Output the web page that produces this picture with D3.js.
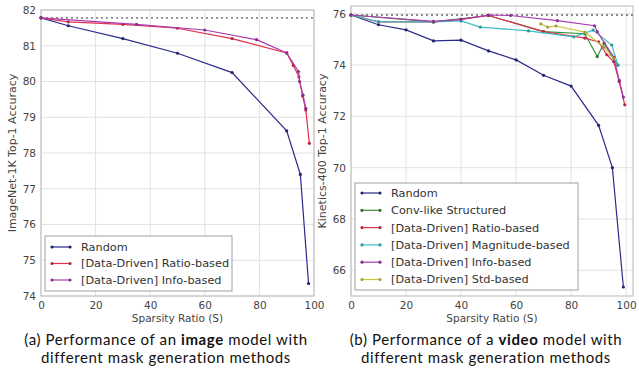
<!DOCTYPE html>
<html>
<head>
<meta charset="utf-8">
<script src="https://cdn.jsdelivr.net/npm/d3@7"></script>
<style>
  body { margin: 0; background: #fff; }
  svg { display: block; }
</style>
</head>
<body>
<script>
// ---- data ----
// (a) image model, ImageNet-1K
var imgRandomX = [0, 10, 30, 50, 70, 90, 95, 98];
var imgRandomY = [81.78, 81.56, 81.2, 80.79, 80.25, 78.62, 77.4, 74.35];
var imgRatioX = [0, 10, 30, 50, 70, 90, 92.4, 94.5, 95.8, 97, 98.3];
var imgRatioY = [81.78, 81.67, 81.6, 81.49, 81.2, 80.8, 80.45, 80.13, 79.6, 79.2, 78.27];
var imgInfoX = [0, 35, 60, 79, 90, 94.3, 94.7, 96, 97];
var imgInfoY = [81.78, 81.6, 81.44, 81.17, 80.8, 80.28, 80.0, 79.62, 79.25];
var imgBaseline = 81.78;
var imgYTicks = [74, 75, 76, 77, 78, 79, 80, 81, 82];

// (b) video model, Kinetics-400
var vidRandomX = [0, 10, 20, 30, 40, 50, 60, 70, 80, 90, 95, 99];
var vidRandomY = [75.95, 75.57, 75.37, 74.94, 74.97, 74.55, 74.2, 73.6, 73.18, 71.65, 70.0, 65.35];
var vidConvX = [0, 30, 50, 70, 85, 89.5, 92, 94.5, 97];
var vidConvY = [75.95, 75.68, 75.93, 75.3, 75.22, 74.33, 74.85, 74.4, 74.0];
var vidRatioX = [0, 10, 30, 40, 50, 70, 85, 90, 93, 95.5, 97.5, 99.5];
var vidRatioY = [75.95, 75.68, 75.68, 75.78, 75.93, 75.3, 75.05, 74.9, 74.4, 74.13, 73.35, 72.45];
var vidMagX = [0, 10, 30, 40, 47, 64.5, 81, 88, 94.8, 97];
var vidMagY = [75.95, 75.68, 75.68, 75.72, 75.48, 75.33, 75.1, 75.36, 74.78, 74.0];
var vidInfoX = [0, 30, 40, 50, 58, 75, 88.5, 89.5, 95.5, 97.5, 99];
var vidInfoY = [75.95, 75.7, 75.78, 75.95, 75.93, 75.73, 75.53, 75.3, 74.3, 73.4, 72.75];
var vidStdX = [69, 71.5, 74.5, 85, 92, 95.5];
var vidStdY = [75.6, 75.48, 75.52, 75.28, 74.7, 74.25];
var vidBaseline = 75.95;
var vidYTicks = [66, 68, 70, 72, 74, 76];

var xTicks = [0, 20, 40, 60, 80, 100];

var cRandom = "#2b2b8c", cConv = "#3a8c3a", cRatio = "#e2304c",
    cMag = "#3cbcc2", cInfo = "#a83cb0", cStd = "#c8c83c";

var svg = d3.select("body").append("svg")
    .attr("width", 639)
    .attr("height", 370);

function zip(xs, ys) {
  return xs.map(function(v, i) { return [v, ys[i]]; });
}

function panel(opt) {
  var x = d3.scaleLinear().domain(opt.xDomain).range([opt.left, opt.right]);
  var y = d3.scaleLinear().domain(opt.yDomain).range([opt.bottom, opt.top]);
  var g = svg.append("g");

  // grid
  g.selectAll(".vgrid").data(xTicks).enter().append("line")
      .attr("x1", function(d) { return x(d); }).attr("x2", function(d) { return x(d); })
      .attr("y1", opt.top).attr("y2", opt.bottom)
      .attr("stroke", "#e2e2e2").attr("stroke-width", 1);
  g.selectAll(".hgrid").data(opt.yTicks).enter().append("line")
      .attr("y1", function(d) { return y(d); }).attr("y2", function(d) { return y(d); })
      .attr("x1", opt.left).attr("x2", opt.right)
      .attr("stroke", "#e2e2e2").attr("stroke-width", 1);

  // frame
  g.append("rect")
      .attr("x", opt.left).attr("y", opt.top)
      .attr("width", opt.right - opt.left).attr("height", opt.bottom - opt.top)
      .attr("fill", "none").attr("stroke", "#b8b8b8").attr("stroke-width", 1);

  // tick labels
  var xAxis = d3.axisBottom(x).tickValues(xTicks).tickSize(0).tickPadding(6);
  g.append("g").attr("transform", "translate(0," + opt.bottom + ")").call(xAxis)
      .call(function(s) { s.select(".domain").remove(); })
      .selectAll("text").attr("font-family", "DejaVu Sans").attr("font-size", 10.5).attr("fill", "#444");
  var yAxis = d3.axisLeft(y).tickValues(opt.yTicks).tickSize(0).tickPadding(5);
  g.append("g").attr("transform", "translate(" + opt.left + ",0)").call(yAxis)
      .call(function(s) { s.select(".domain").remove(); })
      .selectAll("text").attr("font-family", "DejaVu Sans").attr("font-size", 10.5).attr("fill", "#444");

  // baseline
  g.append("line")
      .attr("x1", opt.left).attr("x2", opt.right)
      .attr("y1", y(opt.baseline)).attr("y2", y(opt.baseline))
      .attr("stroke", "#8a8a8a").attr("stroke-width", 1.8).attr("stroke-dasharray", "2,3");

  // series
  var line = d3.line().x(function(d) { return x(d[0]); }).y(function(d) { return y(d[1]); });
  opt.series.forEach(function(s) {
    var pts = zip(s.x, s.y);
    g.append("path").datum(pts)
        .attr("d", line).attr("fill", "none")
        .attr("stroke", s.color).attr("stroke-width", 1.2);
    g.selectAll(null).data(pts).enter().append("circle")
        .attr("cx", function(d) { return x(d[0]); })
        .attr("cy", function(d) { return y(d[1]); })
        .attr("r", 1.6).attr("fill", d3.color(s.color).darker(0.6));
  });

  // axis labels
  svg.append("text")
      .attr("x", (opt.left + opt.right) / 2).attr("y", 322)
      .attr("text-anchor", "middle")
      .attr("font-family", "DejaVu Sans").attr("font-size", 10.5).attr("fill", "#444")
      .text("Sparsity Ratio (S)");
  svg.append("text")
      .attr("transform", "translate(" + opt.yLabelX + "," + (opt.top + opt.bottom) / 2 + ") rotate(-90)")
      .attr("text-anchor", "middle")
      .attr("font-family", "DejaVu Sans").attr("font-size", 11).attr("fill", "#444")
      .text(opt.yLabel);

  // legend
  var lg = svg.append("g");
  lg.append("rect")
      .attr("x", opt.legend.x).attr("y", opt.legend.y)
      .attr("width", opt.legend.w).attr("height", opt.legend.h)
      .attr("fill", "#fff").attr("stroke", "#a0a0a0").attr("stroke-width", 1);
  opt.series.forEach(function(s, i) {
    var ly = opt.legend.y + opt.legend.first + i * opt.legend.step;
    var lx = opt.legend.x + 7;
    lg.append("line").attr("x1", lx).attr("x2", lx + 18).attr("y1", ly).attr("y2", ly)
        .attr("stroke", s.color).attr("stroke-width", 1.2);
    [lx, lx + 18].forEach(function(cx) {
      lg.append("circle").attr("cx", cx).attr("cy", ly).attr("r", 1.6)
          .attr("fill", d3.color(s.color).darker(0.6));
    });
    lg.append("text").attr("x", lx + 29).attr("y", ly).attr("dy", "0.35em")
        .attr("font-family", "DejaVu Sans").attr("font-size", 11.3).attr("fill", "#333")
        .text(s.name);
  });
}

panel({
  left: 41, right: 314, top: 10, bottom: 296,
  xDomain: [0, 100], yDomain: [74, 82], yTicks: imgYTicks,
  baseline: imgBaseline,
  yLabel: "ImageNet-1K Top-1 Accuracy", yLabelX: 16,
  legend: {x: 45, y: 236, w: 187, h: 55, first: 11, step: 16.5},
  series: [
    {name: "Random", x: imgRandomX, y: imgRandomY, color: cRandom},
    {name: "[Data-Driven] Ratio-based", x: imgRatioX, y: imgRatioY, color: cRatio},
    {name: "[Data-Driven] Info-based", x: imgInfoX, y: imgInfoY, color: cInfo}
  ]
});

panel({
  left: 351, right: 633, top: 6, bottom: 296,
  xDomain: [0, 102.5], yDomain: [65, 76.3], yTicks: vidYTicks,
  baseline: vidBaseline,
  yLabel: "Kinetics-400 Top-1 Accuracy", yLabelX: 326,
  legend: {x: 355, y: 183, w: 223, h: 107, first: 10, step: 17.3},
  series: [
    {name: "Random", x: vidRandomX, y: vidRandomY, color: cRandom},
    {name: "Conv-like Structured", x: vidConvX, y: vidConvY, color: cConv},
    {name: "[Data-Driven] Ratio-based", x: vidRatioX, y: vidRatioY, color: cRatio},
    {name: "[Data-Driven] Magnitude-based", x: vidMagX, y: vidMagY, color: cMag},
    {name: "[Data-Driven] Info-based", x: vidInfoX, y: vidInfoY, color: cInfo},
    {name: "[Data-Driven] Std-based", x: vidStdX, y: vidStdY, color: cStd}
  ]
});

// captions
function caption(cx, pre, bold, post) {
  var t = svg.append("text").attr("x", cx).attr("y", 345)
      .attr("text-anchor", "middle")
      .attr("font-family", "Lato").attr("font-size", 15)
      .attr("letter-spacing", 0.6).attr("fill", "#111");
  t.append("tspan").text(pre);
  t.append("tspan").attr("font-weight", "bold").text(bold);
  t.append("tspan").text(post);
  svg.append("text").attr("x", cx).attr("y", 363.3)
      .attr("text-anchor", "middle")
      .attr("font-family", "Lato").attr("font-size", 15)
      .attr("letter-spacing", 0.6).attr("fill", "#111")
      .text("different mask generation methods");
}
caption(166, "(a) Performance of an ", "image", " model with");
caption(486, "(b) Performance of a ", "video", " model with");
</script>
</body>
</html>
